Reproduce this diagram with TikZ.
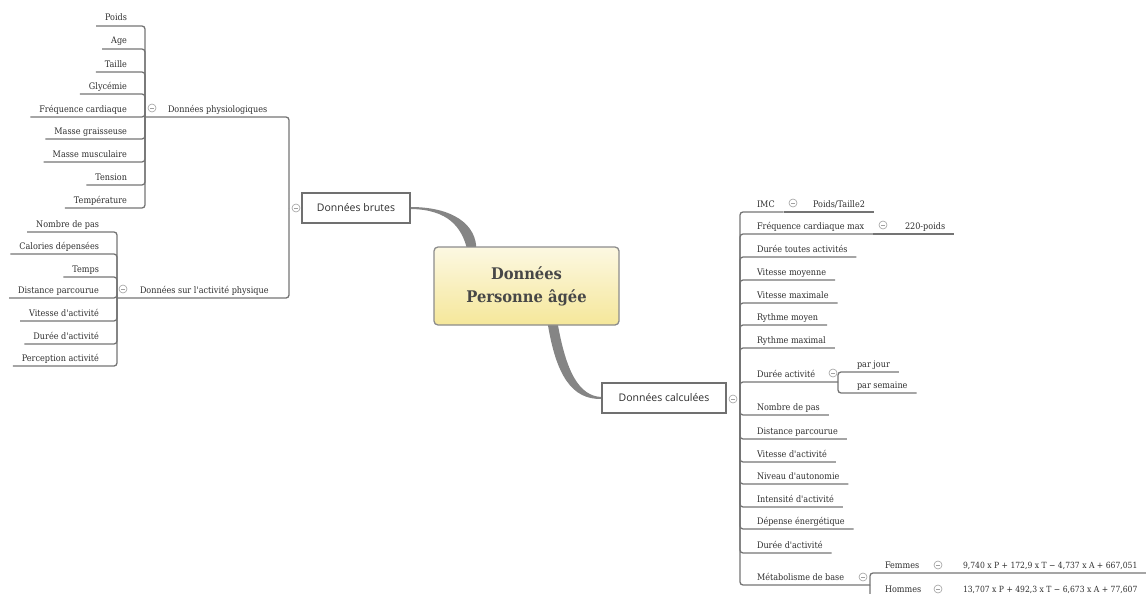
\documentclass[tikz,border=0pt]{standalone}
\usepackage{fontspec}
\usetikzlibrary{backgrounds,calc}
\newfontfamily\slab[FakeStretch=0.9]{DejaVu Serif}
\newfontfamily\slabbold[FakeStretch=0.92]{DejaVu Serif Bold}
\newfontfamily\boxfont{Open Sans}
\definecolor{linec}{HTML}{747474}
\definecolor{txt}{HTML}{2E2E2E}
\definecolor{circ}{HTML}{A0A0A0}
\definecolor{boxb}{HTML}{707070}
\definecolor{rootb}{HTML}{8C8C8C}
\definecolor{roottop}{HTML}{FCF8E2}
\definecolor{rootbot}{HTML}{F5E79A}
\definecolor{taper}{HTML}{858585}
\definecolor{roottxt}{HTML}{474747}
\tikzset{
  conn/.style={draw=linec, line width=1.3pt, rounded corners=3pt},
  leaf/.style={inner xsep=9pt, inner ysep=3pt, text height=6.5pt, text depth=2pt, outer sep=0pt,
    font=\slab\fontsize{9}{10}\selectfont, text=txt},
  leafL/.style={leaf, anchor=south east},
  leafR/.style={leaf, anchor=south west},
  formula/.style={leafR, font=\slab\fontsize{8.5}{10}\selectfont},
  colbtn/.style={circle, draw=circ, fill=white, minimum size=8pt, inner sep=0pt, line width=0.6pt,
    path picture={\draw[circ, line width=0.7pt] ([xshift=2pt]path picture bounding box.west) -- ([xshift=-2pt]path picture bounding box.east);}},
  mainbox/.style={draw=boxb, line width=1.2pt, fill=white, minimum width=108pt, minimum height=30pt,
    inner sep=0pt, font=\boxfont\fontsize{10.5}{12}\selectfont, text=txt},
  rootbox/.style={draw=rootb, line width=1.3pt, rounded corners=4pt, top color=roottop, bottom color=rootbot,
    minimum width=185pt, minimum height=78pt, align=center, inner sep=0pt,
    font=\slabbold\fontsize{16}{23}\selectfont, text=roottxt}
}
\begin{document}
\begin{tikzpicture}[x=1pt,y=-1pt]
\useasboundingbox (0,0) rectangle (1146,594);
\clip (0,0) rectangle (1146,594);

% ---------- central node and main boxes
\node[rootbox] (root) at (526.5,286) {Données\\Personne âgée};
\node[mainbox] (brutes) at (356,208) {Données brutes};
\node[mainbox, minimum width=124pt] (calc) at (664,398) {Données calculées};

\begin{pgfonlayer}{background}
  \fill[taper] (brutes.east) ++(0,-1) .. controls (452,207) and (477,224) .. ($(root.north west)+(43,4)$)
     -- ($(root.north west)+(34,4)$) .. controls (462,227) and (448,209.5) .. ($(brutes.east)+(0,1)$) -- cycle;
  \fill[taper] ($(root.south west)+(114,-4)$) .. controls (556,376) and (572,399.6) .. ($(calc.west)+(0,1)$)
     -- ($(calc.west)+(0,-1)$) .. controls (579,396) and (566,372) .. ($(root.south west)+(124,-4)$) -- cycle;
\end{pgfonlayer}

% ---------- left: Données brutes
\coordinate (Jb) at (289,208);
\coordinate (J1) at (145,117);
\coordinate (J2) at (117,298);
\draw[conn] (Jb) |- (J1);
\draw[conn] (Jb) |- (J2);
\node[colbtn] (cb) at (296,208) {};

\node[leafR] (phys) at (159,117) {Données physiologiques};
\node[colbtn] (c1) at (152,108) {};
\foreach \t/\y [count=\i] in {Poids/26, Age/49, Taille/72, Glycémie/94, Fréquence cardiaque/117,
   Masse graisseuse/139, Masse musculaire/162, Tension/185, Température/208}{
  \node[leafL] (p\i) at (136,\y) {\t};
  \draw[conn] (J1) |- (p\i.south west);
}

\node[leafR] (act) at (131,298) {Données sur l'activité physique};
\node[colbtn] (c2) at (123,289) {};
\foreach \t/\y [count=\i] in {Nombre de pas/232, Calories dépensées/254, Temps/277, Distance parcourue/298,
   Vitesse d'activité/321, Durée d'activité/344, Perception activité/366}{
  \node[leafL] (a\i) at (108,\y) {\t};
  \draw[conn] (J2) |- (a\i.south west);
}

% ---------- right: Données calculées
\coordinate (Jc) at (740,398);
\node[colbtn] (cc) at (733,399) {};

\node[leafR] (imc) at (748,212) {IMC};
\draw[conn] (Jc) |- (imc.south east);
\node[leafR] (imcv) at (804,212) {Poids/Taille2};
\draw[conn] (imc.south east) -- (imcv.south east);
\node[colbtn] (ci) at (793,203) {};

\node[leafR] (fcm) at (748,234) {Fréquence cardiaque max};
\draw[conn] (Jc) |- (fcm.south east);
\node[leafR] (fcmv) at (896,234) {220-poids};
\draw[conn] (fcm.south east) -- (fcmv.south east);
\node[colbtn] (cf) at (883,225) {};

\foreach \t/\y [count=\i] in {Durée toutes activités/257, Vitesse moyenne/280, Vitesse maximale/303,
   Rythme moyen/325, Rythme maximal/348, Nombre de pas/415, Distance parcourue/439,
   Vitesse d'activité/462, Niveau d'autonomie/484, Intensité d'activité/507,
   Dépense énergétique/529, Durée d'activité/553}{
  \node[leafR] (r\i) at (748,\y) {\t};
  \draw[conn] (Jc) |- (r\i.south east);
}

% Durée activité
\coordinate (Jd) at (838,382);
\node[leafR] (da) at (748,382) {Durée activité};
\draw[conn] (Jc) |- (Jd);
\node[leafR] (pj) at (848,372) {par jour};
\node[leafR] (ps) at (848,393) {par semaine};
\draw[conn] (Jd) |- (pj.south east);
\draw[conn] (Jd) |- (ps.south east);
\node[colbtn] (cd) at (833,373) {};

% Métabolisme de base
\coordinate (Jm) at (870,585);
\node[leafR] (mb) at (748,585) {Métabolisme de base};
\draw[conn] (Jc) |- (Jm);
\node[colbtn] (cm) at (863,577) {};
\node[leafR] (fem) at (876,573) {Femmes};
\node[formula] (femv) at (954,573) {9,740 x P + 172,9 x T − 4,737 x A + 667,051};
\draw[conn] (Jm) |- (femv.south east);
\node[colbtn] (cfe) at (938,565) {};
\node[leafR] (hom) at (876,597) {Hommes};
\node[formula] (homv) at (954,597) {13,707 x P + 492,3 x T − 6,673 x A + 77,607};
\draw[conn] (Jm) |- (homv.south east);
\node[colbtn] (cho) at (938,589) {};
\end{tikzpicture}
\end{document}
